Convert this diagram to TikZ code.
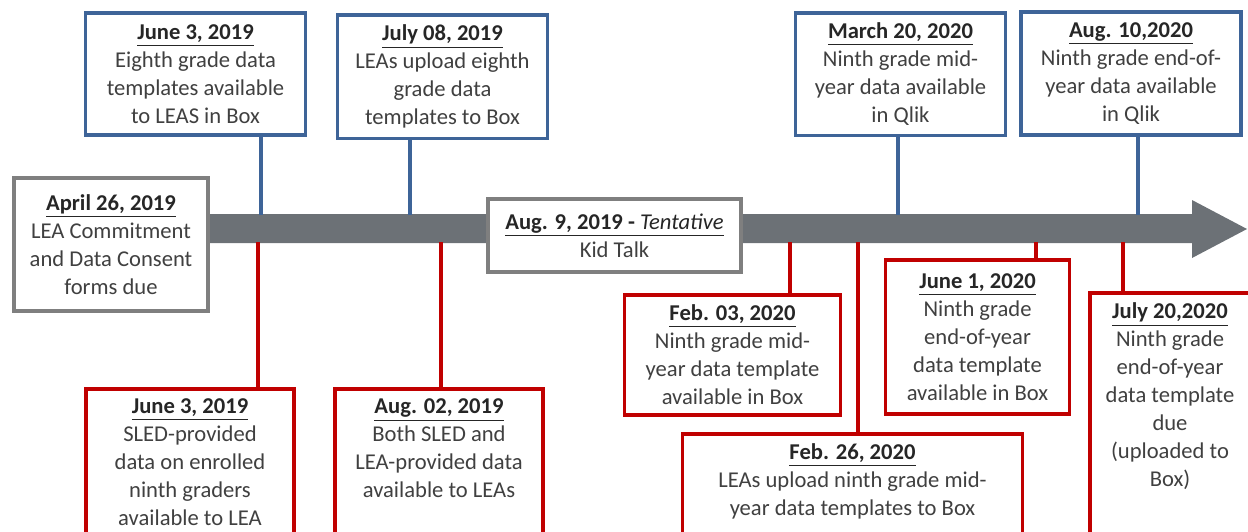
\documentclass[tikz,border=0pt]{standalone}
\usepackage{fontspec}
\setmainfont{Carlito}
\usetikzlibrary{positioning}
\definecolor{tlblue}{RGB}{62,100,152}
\definecolor{tlred}{RGB}{192,0,0}
\definecolor{tlgray}{RGB}{127,127,127}
\definecolor{tlaxis}{RGB}{108,113,118}
\definecolor{tltext}{RGB}{64,64,64}
\definecolor{tldate}{RGB}{38,38,38}
\tikzset{
    every node/.style={font=\fontsize{11.3pt}{14pt}\selectfont, text=tltext},
    date box/.style={draw, fill=white, line width=1.75pt, align=center, anchor=north, inner xsep=3pt, inner ysep=5pt},
    blue box/.style={date box, draw=tlblue},
    red box/.style={date box, draw=tlred},
    gray box/.style={date box, draw=tlgray, line width=2pt},
    cut box/.style={text depth=#1}
}
\newcommand{\evdate}[1]{{\color{tldate}\underline{\textbf{#1}}}}

\begin{document}
\begin{tikzpicture}[
            x = 0.5pt, y = -0.5pt, % one unit = one pixel of the layout
            stem/.style = {line width = 2pt} % lines from the boxes to the axis
        ]
        \clip (0,0) rectangle (1248,531);

        % the time axis
        \fill[tlaxis] (200,214) -- (1192,214) -- (1192,200) -- (1247,229)
            -- (1192,258) -- (1192,243) -- (200,243) -- cycle;
        \foreach \n/\x in {a/261, b/410, c/898, d/1138}
            \coordinate (up\n) at (\x,215);
        \foreach \n/\x in {a/258, b/441, c/790, d/858, e/1036, f/1123}
            \coordinate (dn\n) at (\x,242);

        % above the axis
        \node[blue box, minimum width=110pt, minimum height=61pt] (jun19) at (195.5,11)
            {\evdate{June 3, 2019}\\Eighth grade data\\templates available\\to LEAS in Box};
        \node[blue box, minimum width=105pt, minimum height=60pt] (jul19) at (442.5,13)
            {\evdate{July 08, 2019}\\LEAs upload eighth\\grade data\\templates to Box};
        \node[blue box, minimum width=105pt, minimum height=61pt] (mar20) at (900.5,11)
            {\evdate{March 20, 2020}\\Ninth grade mid-\\year data available\\in Qlik};
        \node[blue box, minimum width=110pt, minimum height=61.5pt] (aug20) at (1131,10)
            {\evdate{Aug. 10,2020}\\Ninth grade end-of-\\year data available\\in Qlik};

        % on the axis
        \node[gray box, minimum width=97pt, minimum height=66.5pt] (apr19) at (111,176)
            {\evdate{April 26, 2019}\\LEA Commitment\\and Data Consent\\forms due};
        \node[gray box, minimum width=126.5pt, minimum height=36.5pt] (aug19) at (614.5,197)
            {{\color{tldate}\underline{\textbf{Aug. 9, 2019 -} \textit{Tentative}}}\\Kid Talk};

        % below the axis
        \node[red box, minimum width=104pt, cut box=120pt] (jun19r) at (190,387)
            {\evdate{June 3, 2019}\\SLED-provided\\data on enrolled\\ninth graders\\available to LEA};
        \node[red box, minimum width=104pt, cut box=120pt] (aug19r) at (439,387)
            {\evdate{Aug. 02, 2019}\\Both SLED and\\LEA-provided data\\available to LEAs};
        \node[red box, minimum width=108pt, minimum height=60pt] (feb03) at (732.5,293)
            {\evdate{Feb. 03, 2020}\\Ninth grade mid-\\year data template\\available in Box};
        \node[red box, minimum width=170pt, cut box=120pt] (feb26) at (852.5,432)
            {\evdate{Feb. 26, 2020}\\LEAs upload ninth grade mid-\\year data templates to Box};
        \node[red box, minimum width=92pt, minimum height=77pt] (jun20) at (977.5,258)
            {\evdate{June 1, 2020}\\Ninth grade\\end-of-year\\data template\\available in Box};
        \node[red box, minimum width=80pt, cut box=120pt] (jul20) at (1170,291)
            {\evdate{July 20,2020}\\Ninth grade\\end-of-year\\data template\\due\\(uploaded to\\Box)};

        \draw[stem, tlblue] (upa) -- (upa |- jun19.south);
        \draw[stem, tlblue] (upb) -- (upb |- jul19.south);
        \draw[stem, tlblue] (upc) -- (upc |- mar20.south);
        \draw[stem, tlblue] (upd) -- (upd |- aug20.south);
        \draw[stem, tlred] (dna) -- (dna |- jun19r.north);
        \draw[stem, tlred] (dnb) -- (dnb |- aug19r.north);
        \draw[stem, tlred] (dnc) -- (dnc |- feb03.north);
        \draw[stem, tlred] (dnd) -- (dnd |- feb26.north);
        \draw[stem, tlred] (dne) -- (dne |- jun20.north);
        \draw[stem, tlred] (dnf) -- (dnf |- jul20.north);

\end{tikzpicture}
\end{document}
